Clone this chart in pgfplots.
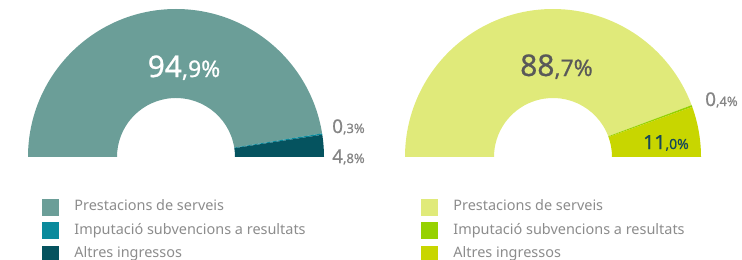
\documentclass[border=0pt]{standalone}
\usepackage{fontspec}
\setmainfont{Noto Sans}
\newfontfamily\lbl{Noto Sans}[FakeBold=0.7]
\usepackage{pgfplots}
\pgfplotsset{compat=1.18}
\definecolor{tmain}{HTML}{6B9E98}
\definecolor{tblue}{HTML}{0A8A9C}
\definecolor{tdark}{HTML}{05535F}
\definecolor{lmain}{HTML}{E0EA7A}
\definecolor{lgreen}{HTML}{96D200}
\definecolor{lyellow}{HTML}{C8D600}
\definecolor{lblgray}{HTML}{858585}
\definecolor{leggray}{HTML}{8C8C8C}
\definecolor{darkgray}{HTML}{595959}
\definecolor{darkteal}{HTML}{16485A}
% half-donut sector: #1 centre x (axis units), #2 from, #3 to, #4 total, #5 colour
\newcommand{\sector}[5]{%
  \fill[#5] (axis cs:#1,103) ++({180-180*(#2/#4)}:148bp)
    arc[start angle={180-180*(#2/#4)}, end angle={180-180*(#3/#4)}, radius=148bp]
    -- ([shift={({180-180*(#3/#4)}:59bp)}]axis cs:#1,103)
    arc[start angle={180-180*(#3/#4)}, end angle={180-180*(#2/#4)}, radius=59bp] -- cycle;}
\pgfplotsset{
  donut/.style={width=371bp, height=260bp, scale only axis,
    xmin=0, xmax=371, ymin=0, ymax=260, hide axis, clip=false,
    legend cell align=left,
    legend image code/.code={\fill[##1] (0bp,-8bp) rectangle (16bp,8bp);},
    legend style={draw=none, fill=none, inner sep=0pt, outer sep=0pt,
      font=\fontsize{14.5}{14.5}\selectfont, text=leggray, row sep=7bp,
      nodes={inner sep=0pt, text height=10.5bp, text depth=3bp},
      /tikz/every odd column/.append style={column sep=16bp}},
  },
}
\begin{document}
\begin{tikzpicture}
\useasboundingbox (0bp,0bp) rectangle (742bp,260bp);
\begin{axis}[donut, at={(0bp,0bp)}, anchor=south west,
  legend style={at={(axis cs:42,61)}, anchor=north west}]
  \addlegendimage{tmain}\addlegendentry{Prestacions de serveis}
  \addlegendimage{tblue}\addlegendentry{Imputació subvencions a resultats}
  \addlegendimage{tdark}\addlegendentry{Altres ingressos}
  % values: 94.9, 0.3, 4.8
  \sector{176}{0}{94.9}{100}{tmain}
  \sector{176}{94.9}{95.2}{100}{tblue}
  \sector{176}{95.2}{100}{100}{tdark}
  \node[anchor=base, text=white, inner sep=0pt] at (axis cs:184,183)
    {\lbl\fontsize{30}{30}\selectfont 94\fontsize{23}{23}\selectfont,9\%};
  \node[anchor=base west, text=lblgray, inner sep=0pt] at (axis cs:332,127)
    {\lbl\fontsize{19}{19}\selectfont 0\fontsize{13}{13}\selectfont,3\%};
  \node[anchor=base west, text=lblgray, inner sep=0pt] at (axis cs:332,97)
    {\lbl\fontsize{19}{19}\selectfont 4\fontsize{13}{13}\selectfont,8\%};
\end{axis}
\begin{axis}[donut, at={(371bp,0bp)}, anchor=south west,
  legend style={at={(axis cs:50,61)}, anchor=north west}]
  \addlegendimage{lmain}\addlegendentry{Prestacions de serveis}
  \addlegendimage{lgreen}\addlegendentry{Imputació subvencions a resultats}
  \addlegendimage{lyellow}\addlegendentry{Altres ingressos}
  % values: 88.7, 0.4, 11.0
  \sector{182}{0}{88.7}{100.1}{lmain}
  \sector{182}{88.7}{89.1}{100.1}{lgreen}
  \sector{182}{89.1}{100.1}{100.1}{lyellow}
  \node[anchor=base, text=darkgray, inner sep=0pt] at (axis cs:185.5,184)
    {\lbl\fontsize{30}{30}\selectfont 88\fontsize{23}{23}\selectfont,7\%};
  \node[anchor=base west, text=lblgray, inner sep=0pt] at (axis cs:334,154)
    {\lbl\fontsize{19}{19}\selectfont 0\fontsize{13}{13}\selectfont,4\%};
  \node[anchor=base west, text=darkteal, inner sep=0pt] at (axis cs:272,111)
    {\lbl\fontsize{19.5}{19.5}\selectfont 11\fontsize{14}{14}\selectfont,0\%};
\end{axis}
\end{tikzpicture}
\end{document}
